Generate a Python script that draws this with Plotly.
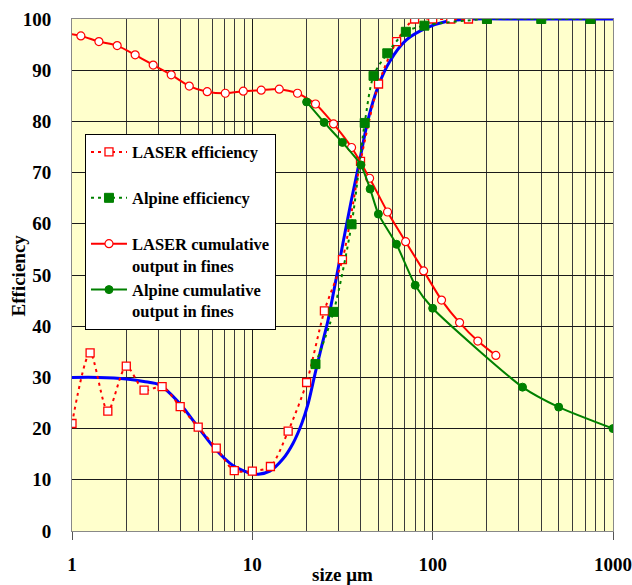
import plotly.graph_objects as go

# LASER efficiency (red open squares, dotted)
laser_eff_x = [1.0, 1.26, 1.58, 2.0, 2.51, 3.16, 3.98, 5.01, 6.31, 7.94, 10.0, 12.6, 15.8, 20.0,
               25.1, 31.6, 39.8, 50.1, 63.1, 79.4, 100.0, 126.0, 158.0, 200.0]
laser_eff_y = [21.0, 34.8, 23.4, 32.2, 27.5, 28.2, 24.3, 20.3, 16.2, 11.8, 11.7, 12.6, 19.5, 29.0,
               43.0, 53.0, 72.2, 87.3, 95.6, 100, 100, 100, 100, 100]

# Alpine efficiency (green filled squares, dotted)
alpine_eff_x = [22.4, 28.2, 35.5, 42.0, 47.0, 56.0, 71.0, 90.0, 200.0, 400.0, 750.0]
alpine_eff_y = [32.6, 42.8, 59.9, 79.7, 88.9, 93.3, 97.5, 98.7, 100, 100, 100]

# LASER cumulative output in fines (red open circles, solid)
laser_cum_x = [0.891, 1.12, 1.41, 1.78, 2.24, 2.82, 3.55, 4.47, 5.62, 7.08, 8.91, 11.2, 14.1, 17.8,
               22.4, 28.2, 35.5, 44.7, 56.2, 70.8, 89.1, 112.0, 141.0, 178.0, 224.0]
laser_cum_y = [97.3, 96.7, 95.6, 94.8, 93.0, 91.0, 89.1, 86.9, 85.8, 85.5, 85.9, 86.1, 86.3, 85.5,
               83.4, 79.5, 74.9, 68.9, 62.3, 56.5, 50.8, 45.1, 40.7, 37.1, 34.3]

# Alpine cumulative output in fines (green filled circles, solid)
alpine_cum_x = [20.0, 25.0, 31.6, 40.0, 45.0, 50.0, 63.0, 80.0, 100.0, 315.0, 500.0, 1000.0]
alpine_cum_y = [83.8, 79.8, 75.9, 71.5, 66.8, 61.9, 56.0, 48.0, 43.5, 28.1, 24.2, 20.0]

# Fitted curve (blue)
fit_x = [1.0, 1.4, 2.0, 2.5, 3.07, 3.96, 5.0, 6.2, 7.8, 9.9, 10.8, 12.5, 14.8, 16.8, 18.8, 20.4,
         22.3, 24.2, 26.3, 28.6, 31.8, 35.4, 39.4, 43.8, 49.8, 57.8, 71.5, 91.9, 118.7, 168.0,
         300.0, 1000.0]
fit_y = [30.0, 30.0, 29.7, 29.2, 28.5, 24.9, 20.3, 16.1, 12.8, 11.2, 11.1, 11.7, 14.1, 17.1, 21.0,
         24.9, 30.8, 36.0, 41.2, 47.7, 56.2, 64.6, 72.4, 80.3, 86.8, 91.7, 95.9, 98.2, 99.5, 100.0,
         100.0, 100.0]

x_tickvals = [1, 10, 100, 1000]
x_ticktext = ["1", "10", "100", "1000"]
x_minor = [m * d for d in (1, 10, 100) for m in range(2, 10)]
y_tickvals = list(range(0, 101, 10))

legend_names = [
    "LASER efficiency<br>\u00a0",
    "Alpine efficiency<br>\u00a0",
    "LASER cumulative<br>output in fines",
    "Alpine cumulative<br>output in fines",
]

RED = "#FF0000"
GREEN = "#008000"
BLUE = "#0000FF"
FONT = "Liberation Serif, Times New Roman, serif"

fig = go.Figure()

fig.add_trace(go.Scatter(x=fit_x, y=fit_y, mode="lines", showlegend=False,
                         line=dict(color=BLUE, width=3, shape="spline", smoothing=0.8),
                         hoverinfo="skip"))

fig.add_trace(go.Scatter(x=laser_eff_x, y=laser_eff_y, mode="lines+markers",
                         name=legend_names[0],
                         line=dict(color=RED, width=2, dash="3px,4px", shape="spline", smoothing=0.8),
                         marker=dict(symbol="square", size=8, color="white",
                                     line=dict(color=RED, width=1.3))))

fig.add_trace(go.Scatter(x=alpine_eff_x, y=alpine_eff_y, mode="lines+markers",
                         name=legend_names[1],
                         line=dict(color=GREEN, width=2, dash="3px,4px", shape="spline", smoothing=0.8),
                         marker=dict(symbol="square", size=9, color=GREEN,
                                     line=dict(color=GREEN, width=1))))

fig.add_trace(go.Scatter(x=laser_cum_x, y=laser_cum_y, mode="lines+markers",
                         name=legend_names[2],
                         line=dict(color=RED, width=2, shape="spline", smoothing=0.6),
                         marker=dict(symbol="circle", size=8, color="white",
                                     line=dict(color=RED, width=1.2))))

fig.add_trace(go.Scatter(x=alpine_cum_x, y=alpine_cum_y, mode="lines+markers",
                         name=legend_names[3],
                         line=dict(color=GREEN, width=2, shape="spline", smoothing=0.6),
                         marker=dict(symbol="circle", size=8, color=GREEN,
                                     line=dict(color=GREEN, width=1))))

fig.update_layout(
    width=632, height=585,
    autosize=False,
    margin=dict(l=72, r=19, t=19, b=54, autoexpand=False),
    paper_bgcolor="white",
    plot_bgcolor="#FFFFCC",
    font=dict(family=FONT, size=19, color="black"),
    showlegend=True,
    legend=dict(x=0.024, y=0.776, xanchor="left", yanchor="top",
                bgcolor="white", bordercolor="black", borderwidth=1,
                font=dict(family=FONT, size=16.5, color="black", weight="bold"),
                valign="top", tracegroupgap=0, itemwidth=36,
                entrywidth=200, entrywidthmode="pixels"),
    xaxis=dict(type="log", range=[0, 3], automargin=False,
               tickvals=x_tickvals, ticktext=x_ticktext,
               ticks="outside", ticklen=8, tickcolor="#555", ticklabelstandoff=8,
               tickfont=dict(family=FONT, size=19, weight="bold"),
               showgrid=True, gridcolor="#1a1a1a", gridwidth=1,
               minor=dict(tickvals=x_minor, showgrid=True, gridcolor="#3a3a3a", gridwidth=1, ticks=""),
               showline=True, linecolor="#888", linewidth=1, mirror=True,
               zeroline=False),
    yaxis=dict(range=[0, 100], tickvals=y_tickvals, automargin=False,
               ticks="", ticklabelstandoff=16,
               tickfont=dict(family=FONT, size=19, weight="bold"),
               showgrid=True, gridcolor="#1a1a1a", gridwidth=1,
               showline=True, linecolor="#888", linewidth=1, mirror=True,
               zeroline=False),
    annotations=[
        dict(text="size μm", xref="paper", yref="paper", x=0.5, y=-0.084,
             xanchor="center", yanchor="middle", showarrow=False,
             font=dict(family=FONT, size=19, weight="bold")),
        dict(text="Efficiency", xref="paper", yref="paper", x=-0.099, y=0.5,
             xanchor="center", yanchor="middle", showarrow=False, textangle=-90,
             font=dict(family=FONT, size=19, weight="bold")),
    ],
)

post = (
    "document.documentElement.style.margin='0px';"
    "document.documentElement.style.overflow='hidden';"
    "document.body.style.margin='0px';"
    "document.body.style.padding='0px';"
    "document.body.style.overflow='hidden';"
)

fig.write_html("out.html",
               config={"displayModeBar": False, "responsive": False},
               post_script=post)
